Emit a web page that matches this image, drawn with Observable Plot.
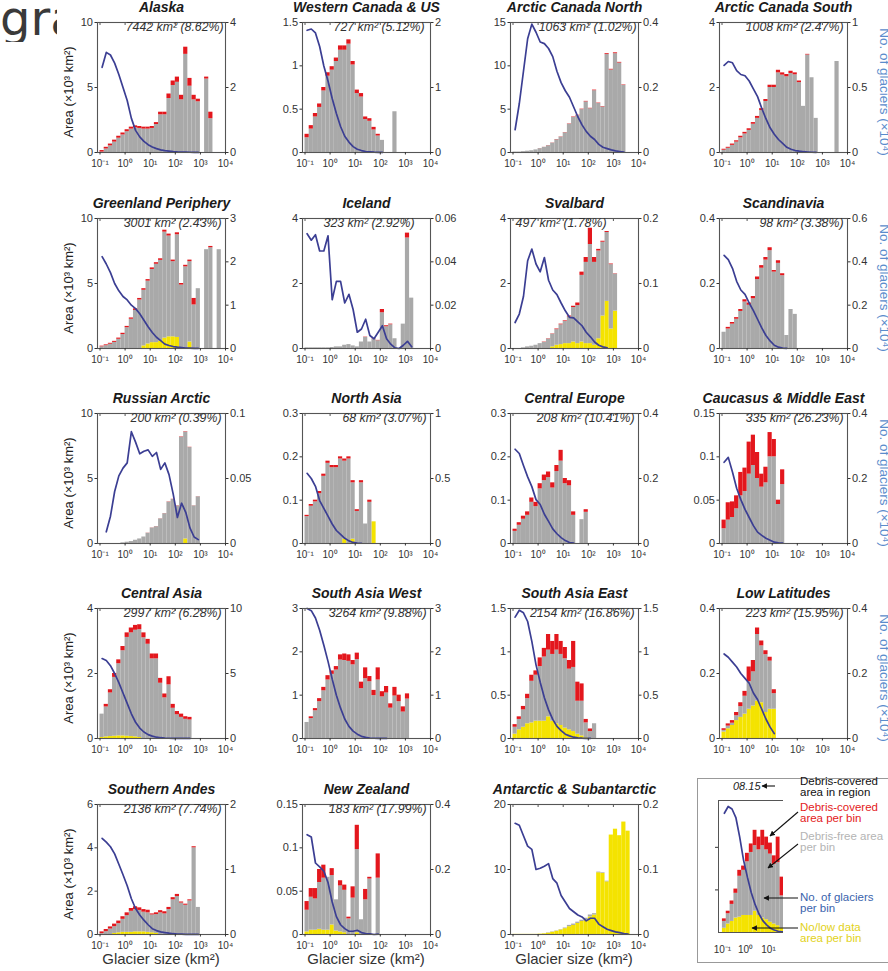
<!DOCTYPE html>
<html><head><meta charset="utf-8">
<script src="https://cdn.jsdelivr.net/npm/d3@7"></script>
<script src="https://cdn.jsdelivr.net/npm/@observablehq/plot@0.6"></script>
<style>
html,body{margin:0;padding:0;background:#fff;overflow:hidden;}
#fig{position:relative;width:888px;height:971px;overflow:hidden;background:#fff;font-family:"Liberation Sans",Arial,sans-serif;}
.lbl{position:absolute;white-space:nowrap;}
</style></head>
<body><div id="fig"></div>
<script>
// ---------------- DATA ----------------
// lower/upper edges of glacier-size bins (km²)
const sizeBinEdges = [0.1,0.1468,0.2154,0.3162,0.4642,0.6813,1,1.468,2.154,3.162,4.642,6.813,10,14.68,21.54,31.62,46.42,68.13,100,146.8,215.4,316.2,464.2,681.3,1000,1468,2154,3162,4642,6813,10000];
const decadeTicks = [0.1,1,10,100,1000,10000];

const regionNames = ["Alaska","Western Canada & US","Arctic Canada North","Arctic Canada South","Greenland Periphery","Iceland","Svalbard","Scandinavia","Russian Arctic","North Asia","Central Europe","Caucasus & Middle East","Central Asia","South Asia West","South Asia East","Low Latitudes","Southern Andes","New Zealand","Antarctic & Subantarctic"];
const regionNotes = ["7442 km² (8.62%)","727 km² (5.12%)","1063 km² (1.02%)","1008 km² (2.47%)","3001 km² (2.43%)","323 km² (2.92%)","497 km² (1.78%)","98 km² (3.38%)","200 km² (0.39%)","68 km² (3.07%)","208 km² (10.41%)","335 km² (26.23%)","2997 km² (6.28%)","3264 km² (9.88%)","2154 km² (16.86%)","223 km² (15.95%)","2136 km² (7.74%)","183 km² (17.99%)",""];
const areaMax  = [10,1.5,15,4,10,4,4,0.4,10,0.3,0.3,0.15,4,3,1.5,0.4,6,0.15,20];
const countMax = [4,2,0.4,1,3,0.06,0.2,0.6,0.1,1,0.4,0.4,10,3,1.5,0.4,2,0.4,0.2];
const areaTicks = [[0,5,10],[0,0.5,1,1.5],[0,5,10,15],[0,2,4],[0,5,10],[0,2,4],[0,2,4],[0,0.2,0.4],[0,5,10],[0,0.1,0.2,0.3],[0,0.1,0.2,0.3],[0,0.05,0.1,0.15],[0,2,4],[0,1,2,3],[0,0.5,1,1.5],[0,0.2,0.4],[0,2,4,6],[0,0.05,0.1,0.15],[0,10,20]];
const countTicks = [[0,2,4],[0,1,2],[0,0.2,0.4],[0,0.5,1],[0,1,2,3],[0,0.02,0.04,0.06],[0,0.1,0.2],[0,0.2,0.4,0.6],[0,0.05,0.1],[0,0.5,1],[0,0.2,0.4],[0,0.2,0.4],[0,5,10],[0,1,2,3],[0,0.5,1,1.5],[0,0.2,0.4],[0,1,2],[0,0.2,0.4],[0,0.1,0.2]];

// area per bin (x10^3 km², total), debris-covered part, no/low-data part, number of glaciers (x10^4)
const alaskaArea   = [0.15,0.4,0.65,0.95,1.25,1.5,1.75,1.95,2.05,2.0,1.95,1.95,2.0,2.3,3.1,3.1,4.5,5.5,5.8,4.4,8.1,5.7,4.4,4.1,0,5.8,3.1];
const alaskaDebris = [0.12,0.13,0.14,0.15,0.15,0.15,0.15,0.15,0.15,0.15,0.15,0.15,0.15,0.15,0.2,0.2,0.35,0.35,0.4,0.35,0.55,0.6,0.35,0.2,0,0.15,0.5];
const alaskaNoData = [];
const alaskaCount  = [2.62,3.08,3.0,2.75,2.4,2.0,1.6,1.05,0.68,0.48,0.34,0.24,0.17,0.12,0.08,0.06,0.045,0.03,0.02,0.014,0.01,0.007,0.005,0.003];

const wcusArea   = [0.21,0.31,0.45,0.56,0.75,0.92,0.99,1.09,1.23,1.23,1.3,1.05,0.72,0.68,0.41,0.39,0.29,0.21,0.14,0,0,0.47];
const wcusDebris = [0.04,0.04,0.04,0.04,0.04,0.04,0.04,0.04,0.05,0.05,0.05,0.04,0.04,0.04,0.03,0.03,0.03,0.02,0,0,0,0];
const wcusNoData = [];
const wcusCount  = [1.88,1.9,1.84,1.63,1.33,1.1,0.83,0.6,0.4,0.25,0.16,0.09,0.05,0.03,0.015,0.01,0.005,0.003,0.002];

const acnArea   = [0.05,0.05,0.1,0.15,0.2,0.3,0.45,0.6,0.8,1.1,1.5,1.8,2.3,3.3,4.1,4.3,5.0,5.9,5.1,7.2,5.7,5.3,11.4,9.6,11.5,10.4,7.8];
const acnDebris = [0,0,0,0,0,0,0.01,0.01,0.02,0.02,0.03,0.03,0.03,0.04,0.05,0.05,0.05,0.06,0.05,0.07,0.05,0.05,0.1,0.08,0.1,0.08,0.05];
const acnNoData = [];
const acnCount  = [0.07,0.15,0.25,0.35,0.395,0.37,0.34,0.335,0.32,0.295,0.25,0.215,0.19,0.17,0.14,0.11,0.085,0.065,0.05,0.04,0.025,0.016,0.012,0.008,0.005,0.003,0.001];

const acsArea   = [0.1,0.16,0.26,0.36,0.5,0.62,0.73,0.92,1.11,1.35,1.63,2.07,2.07,2.53,2.45,2.4,2.5,2.45,2.2,1.42,3.02,2.3,1.05,0,0,0,0,2.8];
const acsDebris = [0.03,0.03,0.04,0.04,0.05,0.05,0.05,0.05,0.06,0.06,0.06,0.07,0.07,0.08,0.07,0.07,0.07,0.06,0.05,0,0.02,0,0,0,0,0,0,0];
const acsNoData = [];
const acsCount  = [0.67,0.7,0.69,0.63,0.6,0.59,0.55,0.49,0.43,0.34,0.26,0.19,0.14,0.1,0.07,0.04,0.025,0.015,0.01,0.006,0.004,0.002,0.001];

const greenArea   = [0.18,0.28,0.4,0.55,0.8,1.17,1.7,2.35,3.05,3.85,4.6,5.3,6.2,6.6,6.9,9.1,8.8,6.8,8.9,5.0,6.4,6.8,3.85,4.6,0,7.6,7.85,0,7.6];
const greenDebris = [0.05,0.06,0.07,0.08,0.09,0.1,0.1,0.1,0.12,0.12,0.12,0.12,0.12,0.12,0.12,0.15,0.15,0.12,0.15,0.12,0.12,0.12,0.5,0,0,0,0.1,0,0];
const greenNoData = [0,0,0,0,0,0,0,0,0,0,0.2,0.35,0.45,0.45,0.55,0.8,0.9,0.9,0.85,0,0,0.5];
const greenCount  = [2.12,1.95,1.75,1.5,1.33,1.2,1.12,1.0,0.92,0.8,0.65,0.5,0.37,0.26,0.18,0.1,0.07,0.045,0.03,0.02,0.012,0.008,0.005,0.003];

const icelandArea   = [0.02,0.02,0.02,0.02,0.02,0.02,0.03,0.05,0.05,0.1,0.12,0.08,0.05,0.2,0.35,0.2,0.3,0.25,1.2,0.7,0.75,0.3,0,0.75,3.55,1.55];
const icelandDebris = [0,0,0,0,0,0,0,0,0,0,0,0,0,0,0.01,0,0.01,0.01,0.1,0.03,0.02,0,0,0,0.15,0];
const icelandNoData = [];
const icelandCount  = [0.053,0.05,0.0525,0.045,0.045,0.052,0.0225,0.031,0.031,0.021,0.025,0.018,0.0075,0.009,0.0135,0.006,0.0045,0.0075,0.0105,0.0045,0.002,0.0003,0,0.0015,0.0033,0.0008];

const svalArea   = [0,0,0.02,0.05,0.07,0.1,0.15,0.2,0.3,0.45,0.6,0.75,0.85,1.0,1.3,1.4,2.35,2.8,3.7,2.8,3.05,3.3,3.6,2.6,2.3];
const svalDebris = [0,0,0,0,0,0,0,0.01,0.01,0.01,0.02,0.02,0.02,0.03,0.04,0.08,0.1,0.15,0.5,0.15,0.05,0.03,0.03,0.02,0.01];
const svalNoData = [0,0,0,0,0,0,0,0,0,0.05,0.1,0.12,0.15,0.15,0.2,0.15,0.2,0.15,0.15,0.1,0.3,1.0,1.45,0.6,1.15];
const svalCount  = [0.04,0.053,0.08,0.135,0.153,0.13,0.118,0.14,0.105,0.09,0.083,0.07,0.058,0.048,0.047,0.041,0.035,0.025,0.018,0.01,0.005,0.0025,0.001];

const scandArea   = [0.05,0.065,0.08,0.095,0.12,0.15,0.14,0.16,0.22,0.255,0.28,0.31,0.24,0.27,0.23,0.04,0.12,0.105];
const scandDebris = [0,0.005,0.005,0.005,0.006,0.007,0.007,0.007,0.008,0.008,0.008,0.009,0.005,0.008,0.006,0,0,0];
const scandNoData = [];
const scandCount  = [0.43,0.41,0.37,0.31,0.27,0.25,0.21,0.175,0.135,0.095,0.06,0.035,0.015,0.006,0.002,0.001];

const rusArea   = [0,0,0,0,0,0.05,0.1,0.15,0.25,0.35,0.5,0.8,1.2,1.3,1.9,2.3,3.2,3.4,2.9,8.2,8.6,7.4,2.9,3.6];
const rusDebris = [0,0,0,0,0,0,0,0,0,0,0,0.01,0.01,0.01,0.01,0.01,0.02,0.02,0.02,0.03,0.03,0.02,0.01,0.01];
const rusNoData = [0,0,0,0,0,0,0,0,0,0,0,0,0,0,0,0,0,0,0,0,0.35];
const rusCount  = [null,0.009,0.021,0.04,0.052,0.058,0.062,0.086,0.078,0.069,0.071,0.072,0.067,0.07,0.057,0.062,0.053,0.038,0.02,0.031,0.024,0.012,0.005,0.003];

const nasiaArea   = [0.065,0.09,0.1,0.12,0.16,0.19,0.18,0.18,0.2,0.195,0.2,0.145,0.078,0.145,0.045,0.1,0.05];
const nasiaDebris = [0.003,0.004,0.004,0.005,0.005,0.005,0.005,0.005,0.005,0.005,0.005,0.005,0.004,0.005,0,0.005,0];
const nasiaNoData = [0,0,0,0,0,0,0,0,0,0.01,0,0.01,0,0,0,0,0.05];
const nasiaCount  = [0.54,0.5,0.44,0.33,0.27,0.21,0.15,0.1,0.07,0.04,0.02,0.008,0.004,0.002];

const ceurArea   = [0.033,0.048,0.063,0.073,0.105,0.095,0.138,0.158,0.165,0.14,0.18,0.215,0.15,0.145,0.073,0,0.055,0.078];
const ceurDebris = [0.005,0.006,0.007,0.008,0.01,0.01,0.012,0.013,0.013,0.012,0.014,0.025,0.012,0.012,0.008,0,0,0.006];
const ceurNoData = [];
const ceurCount  = [0.29,0.277,0.24,0.205,0.175,0.135,0.12,0.09,0.068,0.045,0.03,0.018,0.009,0.003,0.001];

const caucArea   = [0.027,0.047,0.048,0.055,0.082,0.087,0.117,0.125,0.105,0.08,0.088,0.128,0.12,0.05,0.085];
const caucDebris = [0.01,0.02,0.018,0.015,0.027,0.027,0.037,0.035,0.03,0.015,0.018,0.028,0.02,0.005,0.017];
const caucNoData = [];
const caucCount  = [0.25,0.265,0.22,0.17,0.135,0.105,0.08,0.055,0.035,0.025,0.016,0.01,0.004,0.002,0.001];

const casiaArea   = [0.75,1.05,1.5,2.0,2.42,2.83,3.25,3.4,3.48,3.5,3.25,3.05,2.6,2.6,1.85,1.37,1.9,1.05,0.83,0.75,0.67,0.65];
const casiaDebris = [0,0.08,0.1,0.12,0.12,0.13,0.14,0.15,0.15,0.15,0.15,0.15,0.15,0.15,0.15,0.12,0.25,0.12,0.1,0.1,0.08,0.08];
const casiaNoData = [0.03,0.05,0.06,0.07,0.08,0.08,0.07,0.06,0.05,0.03];
const casiaCount  = [6.15,6.0,5.6,5.0,4.3,3.5,2.7,1.9,1.25,0.8,0.5,0.3,0.18,0.1,0.06,0.035,0.02,0.012,0.008,0.005,0.003,0.002];

const sawArea   = [0.37,0.5,0.69,0.92,1.18,1.45,1.56,1.66,1.93,1.95,1.93,1.8,1.97,1.3,1.63,1.43,1.11,1.63,1.08,1.2,0.8,1.18,1.0,0.73,1.03];
const sawDebris = [0,0.04,0.05,0.07,0.08,0.1,0.08,0.08,0.12,0.15,0.15,0.1,0.15,0.15,0.25,0.12,0.12,0.28,0.12,0.15,0.1,0.2,0.15,0.12,0.12];
const sawNoData = [];
const sawCount  = [3.0,2.95,2.78,2.5,2.15,1.78,1.37,1.0,0.7,0.45,0.28,0.17,0.1,0.05,0.025,0.012,0.006,0.003,0.002,0.001];

const saeArea   = [0.16,0.25,0.37,0.51,0.73,0.78,0.93,1.04,1.2,1.12,1.2,1.12,1.05,0.9,1.12,0.65,0.63,0.22,0.11,0.17];
const saeDebris = [0.03,0.03,0.04,0.05,0.07,0.05,0.1,0.1,0.18,0.15,0.18,0.15,0.13,0.1,0.3,0.22,0.2,0.04,0.03,0];
const saeNoData = [0.05,0.1,0.13,0.17,0.18,0.2,0.2,0.2,0.25,0.2,0.17,0.15,0.12,0.1,0.08,0.05,0.03,0.01];
const saeCount  = [1.4,1.48,1.45,1.35,1.12,0.85,0.65,0.47,0.33,0.22,0.14,0.09,0.05,0.03,0.015,0.008,0.004,0.002,0.001];

const lowlatArea   = [0.03,0.045,0.055,0.08,0.11,0.145,0.22,0.24,0.34,0.3,0.27,0.25,0.15];
const lowlatDebris = [0.005,0.007,0.008,0.01,0.012,0.015,0.045,0.035,0.02,0.015,0.012,0.012,0.012];
const lowlatNoData = [0.02,0.03,0.04,0.055,0.065,0.075,0.09,0.1,0.115,0.11,0.08,0.09,0.09];
const lowlatCount  = [0.26,0.25,0.235,0.22,0.2,0.185,0.17,0.14,0.12,0.09,0.06,0.035,0.015];

const sandesArea   = [0.12,0.23,0.35,0.48,0.62,0.82,1.0,1.2,1.28,1.23,1.15,1.12,0.95,1.0,1.1,1.05,1.25,1.7,1.85,1.5,1.4,1.6,4.05,1.25];
const sandesDebris = [0.08,0.1,0.1,0.12,0.12,0.12,0.13,0.13,0.13,0.12,0.12,0.12,0.05,0.08,0.1,0.1,0.1,0.1,0.1,0.05,0.05,0.05,0.05,0];
const sandesNoData = [0,0,0,0.05,0.08,0.1,0.1,0.1,0.12,0.12,0.12,0.1,0.08,0.05];
const sandesCount  = [1.48,1.42,1.35,1.24,1.08,0.92,0.75,0.55,0.4,0.3,0.22,0.15,0.09,0.06,0.04,0.03,0.02,0.012,0.008,0.005,0.003,0.002,0.001,0.001];

const nzArea   = [0.038,0.053,0.053,0.075,0.08,0.066,0.076,0.04,0.062,0.057,0.02,0.055,0.126,0.017,0.052,0.066,0,0.093];
const nzDebris = [0.01,0.01,0.012,0.015,0.015,0,0.008,0,0.006,0.006,0.002,0.013,0.028,0,0.012,0.002,0,0.028];
const nzNoData = [0.003,0.005,0.005,0.006,0.005,0.005,0.011,0.004,0.003,0.002,0,0,0.002];
const nzCount  = [0.307,0.3,0.22,0.208,0.195,0.16,0.1,0.055,0.03,0.018,0.01,0.01,0.013,0.006,0.003,0.002,0,0.001];

const antArea   = [0.02,0.02,0.02,0.02,0.02,0.02,0.05,0.1,0.25,0.4,0.55,0.75,1.0,1.4,1.6,1.9,2.2,2.5,3.0,3.2,9.6,9.5,8.2,15.3,16.2,15.2,17.3,15.9];
const antDebris = [];
const antNoData = [0.02,0.02,0.02,0.02,0.02,0.02,0.05,0.1,0.2,0.35,0.5,0.7,0.9,1.2,1.4,1.7,2.0,2.2,2.7,3.0,9.5,9.4,8.1,15.3,16.2,15.2,17.3,15.9];
const antCount  = [0.171,0.168,0.152,0.136,0.131,0.1,0.102,0.105,0.109,0.086,0.079,0.06,0.05,0.04,0.035,0.03,0.027,0.021,0.025,0.025,0.016,0.012,0.008,0.006,0.004,0.003,0.0015,0.0005];

const regionArea   = [alaskaArea,wcusArea,acnArea,acsArea,greenArea,icelandArea,svalArea,scandArea,rusArea,nasiaArea,ceurArea,caucArea,casiaArea,sawArea,saeArea,lowlatArea,sandesArea,nzArea,antArea];
const regionDebris = [alaskaDebris,wcusDebris,acnDebris,acsDebris,greenDebris,icelandDebris,svalDebris,scandDebris,rusDebris,nasiaDebris,ceurDebris,caucDebris,casiaDebris,sawDebris,saeDebris,lowlatDebris,sandesDebris,nzDebris,antDebris];
const regionNoData = [alaskaNoData,wcusNoData,acnNoData,acsNoData,greenNoData,icelandNoData,svalNoData,scandNoData,rusNoData,nasiaNoData,ceurNoData,caucNoData,casiaNoData,sawNoData,saeNoData,lowlatNoData,sandesNoData,nzNoData,antNoData];
const regionCount  = [alaskaCount,wcusCount,acnCount,acsCount,greenCount,icelandCount,svalCount,scandCount,rusCount,nasiaCount,ceurCount,caucCount,casiaCount,sawCount,saeCount,lowlatCount,sandesCount,nzCount,antCount];

const legendNote = "08.15";
const legendTexts = [
  {lines: ["Debris-covered", "area in region"], color: "#111"},
  {lines: ["Debris-covered", "area per bin"], color: "#e3201b"},
  {lines: ["Debris-free area", "per bin"], color: "#b4b4b4"},
  {lines: ["No. of glaciers", "per bin"], color: "#3a63ad"},
  {lines: ["No/low data", "area per bin"], color: "#e2d21a"}
];

// ---------------- LAYOUT / STYLE ----------------
const FONT = "'Liberation Sans', Arial, Helvetica, sans-serif";
const RED = "#e3171d", GREY = "#a9a9a9", YELLOW = "#f4e300", BLUE = "#3b3e93", FRAME = "#555";
const FW = 128, FH = 130, ML = 40, MR = 40, MT = 22, MB = 26;
const colX = [97, 302, 510, 719];
const rowY = [22, 218, 413, 608, 804];
const noteDx = [-2,-6,-2,-4,-4,-16,-32,-4,-4,-4,-4,-4,-4,-4,-4,-4,-4,-4,0];
const X_MIN = Math.pow(10, -1.1);

const fig = document.getElementById("fig");
function place(el, left, top) {
  el.style.position = "absolute";
  el.style.left = left + "px";
  el.style.top = top + "px";
  fig.appendChild(el);
  return el;
}
function label(text, left, top, css) {
  const d = document.createElement("div");
  d.className = "lbl";
  d.textContent = text;
  Object.assign(d.style, css || {});
  return place(d, left, top);
}
const SUP = {"-1": "⁻¹", "0": "⁰", "1": "¹", "2": "²", "3": "³", "4": "⁴"};
const fmtSize = d => "10" + SUP[String(Math.round(Math.log10(d)))];
const fmtNum = d => String(+(+d).toFixed(6));

// cut-off stray text at top left
const gra = document.createElement("div");
gra.className = "lbl";
gra.textContent = "gra";
Object.assign(gra.style, {width: "57px", overflow: "hidden", fontFamily: "'DejaVu Sans', sans-serif", fontSize: "48px", lineHeight: "48px", fontWeight: "normal", color: "#3a3a3a"});
place(gra, 0, -6);

function buildBars(area, debris, nodata, edges) {
  const out = [];
  area.forEach((a, j) => {
    if (!(a > 0)) return;
    const d = debris[j] || 0, n = Math.min(nodata[j] || 0, a);
    const top = Math.max(n, a - d);
    out.push({x1: edges[j], x2: edges[j + 1], n, g0: n, g1: top, r0: top, r1: a});
  });
  return out;
}
function buildLine(count, edges, k) {
  return count.map((c, j) => ({x: Math.sqrt(edges[j] * edges[j + 1]), y: (c == null) ? NaN : c * k}));
}

regionNames.forEach((name, i) => {
  const col = i % 4, row = Math.floor(i / 4);
  const lmax = areaMax[i], rmax = countMax[i], k = lmax / rmax;
  const bars = buildBars(regionArea[i], regionDebris[i], regionNoData[i], sizeBinEdges);
  const line = buildLine(regionCount[i], sizeBinEdges, k);
  const marks = [
    Plot.rect(bars, {x1: "x1", x2: "x2", y1: 0, y2: "n", fill: YELLOW}),
    Plot.rect(bars, {x1: "x1", x2: "x2", y1: "g0", y2: "g1", fill: GREY}),
    Plot.rect(bars, {x1: "x1", x2: "x2", y1: "r0", y2: "r1", fill: RED}),
    Plot.line(line, {x: "x", y: "y", stroke: BLUE, strokeWidth: 1.7}),
    Plot.ruleX(decadeTicks, {x: d => d, y1: lmax, y2: lmax * (1 - 3 / FH), stroke: FRAME}),
    Plot.frame({stroke: FRAME, strokeWidth: 1.1}),
    Plot.axisY({anchor: "left", ticks: areaTicks[i], tickFormat: fmtNum, tickSize: 2.5, tickPadding: 2, fontSize: 11, label: null}),
    Plot.axisY({anchor: "right", ticks: countTicks[i].map(v => v * k), tickFormat: d => fmtNum(d / k), tickSize: 2.5, tickPadding: 2, fontSize: 11, label: null}),
    Plot.axisX({anchor: "bottom", ticks: decadeTicks, tickFormat: fmtSize, tickSize: 2.5, tickPadding: 5, fontSize: 10, label: null}),
    Plot.text([name], {text: d => d, frameAnchor: "top", lineAnchor: "middle", dy: -15, fontSize: 14, fontWeight: "bold", fontStyle: "italic", fill: "#1a1a1a"})
  ];
  if (regionNotes[i]) {
    marks.push(Plot.text([regionNotes[i]], {text: d => d, frameAnchor: "top-right", textAnchor: "end", lineAnchor: "middle", dx: noteDx[i], dy: 5, fontSize: 12.3, fontStyle: "italic", fill: "#333"}));
  }
  const svg = Plot.plot({
    width: ML + FW + MR, height: MT + FH + MB,
    marginLeft: ML, marginRight: MR, marginTop: MT, marginBottom: MB,
    style: {background: "transparent", color: "#333", fontFamily: FONT, fontSize: "11px", overflow: "visible"},
    x: {type: "log", domain: [X_MIN, 10000], axis: null},
    y: {domain: [0, lmax], axis: null},
    marks
  });
  place(svg, colX[col] - ML, rowY[row] - MT);
});

// axis titles
for (let r = 0; r < 5; r++) {
  const cy = rowY[r] + FH / 2 + 5;
  label("Area (×10³ km²)", 68, cy, {fontSize: "13px", color: "#222", transform: "translate(-50%,-50%) rotate(-90deg)"});
  if (r < 4) label("No. of glaciers (×10⁴)", 884, cy, {fontSize: "13.5px", color: "#5b8ccc", transform: "translate(-50%,-50%) rotate(90deg)"});
}
for (let c = 0; c < 3; c++) {
  label("Glacier size (km²)", colX[c] + FW / 2, 958, {fontSize: "15px", color: "#333", transform: "translate(-50%,-50%)"});
}

// ---------------- LEGEND PANEL ----------------
const box = document.createElement("div");
Object.assign(box.style, {width: "200px", height: "185px", border: "1px solid #999", boxSizing: "border-box"});
place(box, 697, 778);

const LW = 65, LH = 132, LML = 14, LMT = 4, LMR = 6, LMB = 26;
const LYMAX = 1.55, LXMIN = Math.pow(10, -1.17), LXMAX = Math.pow(10, 1.65);
const lBars = buildBars(saeArea, saeDebris, saeNoData, sizeBinEdges);
const lLine = buildLine(saeCount, sizeBinEdges, 1);
const legendSvg = Plot.plot({
  width: LML + LW + LMR, height: LMT + LH + LMB,
  marginLeft: LML, marginRight: LMR, marginTop: LMT, marginBottom: LMB,
  style: {background: "transparent", color: "#333", fontFamily: FONT, fontSize: "10px", overflow: "visible"},
  x: {type: "log", domain: [LXMIN, LXMAX], axis: null},
  y: {domain: [0, LYMAX], axis: null},
  marks: [
    Plot.rect(lBars, {x1: "x1", x2: "x2", y1: 0, y2: "n", fill: YELLOW, clip: true}),
    Plot.rect(lBars, {x1: "x1", x2: "x2", y1: "g0", y2: "g1", fill: GREY, clip: true}),
    Plot.rect(lBars, {x1: "x1", x2: "x2", y1: "r0", y2: "r1", fill: RED, clip: true}),
    Plot.line(lLine, {x: "x", y: "y", stroke: BLUE, strokeWidth: 1.7, clip: true}),
    Plot.ruleX([LXMIN], {stroke: FRAME}),
    Plot.ruleY([0, LYMAX], {stroke: FRAME}),
    Plot.axisY({anchor: "left", ticks: [0.5, 1], tickFormat: () => "", tickSize: 3, label: null}),
    Plot.axisX({anchor: "bottom", ticks: [0.1, 1, 10], tickFormat: fmtSize, tickSize: 0, tickPadding: 13, fontSize: 10, label: null}),
    Plot.text([legendNote], {text: d => d, frameAnchor: "top-right", textAnchor: "end", lineAnchor: "middle", dx: -23, dy: -14, fontSize: 11, fontStyle: "italic", fill: "#222"})
  ]
});
place(legendSvg, 718 - LML, 800 - LMT);

const legendTop = [776, 802, 831, 892, 922];
legendTexts.forEach((t, i) => {
  const d = document.createElement("div");
  d.className = "lbl";
  Object.assign(d.style, {fontSize: "11.5px", lineHeight: "10.5px", color: t.color});
  d.innerHTML = t.lines.join("<br>");
  place(d, 800, legendTop[i]);
});

// callout arrows
const NS = "http://www.w3.org/2000/svg";
const arrows = document.createElementNS(NS, "svg");
arrows.setAttribute("width", 888); arrows.setAttribute("height", 971);
arrows.style.pointerEvents = "none";
arrows.innerHTML = `<defs><marker id="ah" viewBox="0 0 10 10" refX="9" refY="5" markerWidth="5" markerHeight="5" orient="auto"><path d="M0,0L10,5L0,10z" fill="#111"/></marker></defs>` +
  [[775,786,762,786],[798,812,770,836],[798,844,768,868],[798,898,764,898],[798,928,752,928]]
    .map(a => `<line x1="${a[0]}" y1="${a[1]}" x2="${a[2]}" y2="${a[3]}" stroke="#111" stroke-width="1.1" marker-end="url(#ah)"/>`).join("");
place(arrows, 0, 0);
</script>
</body></html>
